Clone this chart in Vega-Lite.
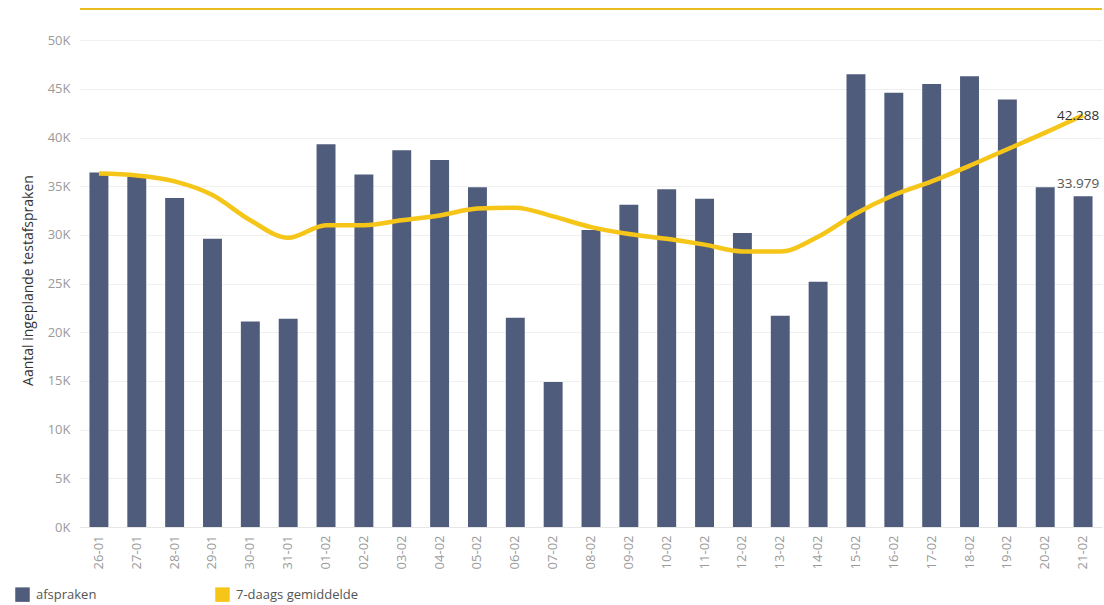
{
  "$schema": "https://vega.github.io/schema/vega-lite/v6.json",
  "width": 1022,
  "height": 518,
  "autosize": {"type": "none"},
  "padding": {"left": 80, "top": 9, "right": 2, "bottom": 78},
  "background": "white",
  "config": {
    "font": "Open Sans",
    "view": {"stroke": null},
    "locale": {"number": {"decimal": ",", "thousands": ".", "grouping": [3], "currency": ["€", ""]}}
  },
  "data": {
    "values": [
      {"date": "26-01", "afspraken": 36400, "gemiddelde": 36300},
      {"date": "27-01", "afspraken": 35950, "gemiddelde": 36100},
      {"date": "28-01", "afspraken": 33800, "gemiddelde": 35500},
      {"date": "29-01", "afspraken": 29600, "gemiddelde": 34100},
      {"date": "30-01", "afspraken": 21100, "gemiddelde": 31500},
      {"date": "31-01", "afspraken": 21400, "gemiddelde": 29700},
      {"date": "01-02", "afspraken": 39300, "gemiddelde": 31000},
      {"date": "02-02", "afspraken": 36200, "gemiddelde": 31000},
      {"date": "03-02", "afspraken": 38700, "gemiddelde": 31500},
      {"date": "04-02", "afspraken": 37700, "gemiddelde": 32000},
      {"date": "05-02", "afspraken": 34900, "gemiddelde": 32700},
      {"date": "06-02", "afspraken": 21500, "gemiddelde": 32800},
      {"date": "07-02", "afspraken": 14900, "gemiddelde": 31900},
      {"date": "08-02", "afspraken": 30500, "gemiddelde": 30800},
      {"date": "09-02", "afspraken": 33100, "gemiddelde": 30100},
      {"date": "10-02", "afspraken": 34700, "gemiddelde": 29600},
      {"date": "11-02", "afspraken": 33700, "gemiddelde": 29000},
      {"date": "12-02", "afspraken": 30200, "gemiddelde": 28300},
      {"date": "13-02", "afspraken": 21700, "gemiddelde": 28300},
      {"date": "14-02", "afspraken": 25200, "gemiddelde": 29800},
      {"date": "15-02", "afspraken": 46500, "gemiddelde": 32200},
      {"date": "16-02", "afspraken": 44600, "gemiddelde": 34100},
      {"date": "17-02", "afspraken": 45500, "gemiddelde": 35500},
      {"date": "18-02", "afspraken": 46300, "gemiddelde": 37100},
      {"date": "19-02", "afspraken": 43900, "gemiddelde": 38800},
      {"date": "20-02", "afspraken": 34900, "gemiddelde": 40500},
      {"date": "21-02", "afspraken": 33979, "gemiddelde": 42288}
    ]
  },
  "encoding": {
    "x": {
      "field": "date",
      "type": "ordinal",
      "sort": null,
      "scale": {"paddingInner": 0.5, "paddingOuter": 0.25},
      "axis": {
        "title": null,
        "labelAngle": -90,
        "labelColor": "#9a9a9a",
        "labelFontSize": 13,
        "labelPadding": 8,
        "ticks": false,
        "domainColor": "#e6e6e6",
        "grid": false
      }
    }
  },
  "layer": [
    {
      "mark": {"type": "bar", "color": "#505c7c"},
      "encoding": {
        "y": {
          "field": "afspraken",
          "type": "quantitative",
          "scale": {"domain": [0, 53200], "nice": false},
          "axis": {
            "title": "Aantal ingeplande testafspraken",
            "titleFontSize": 14,
            "titleFontWeight": "normal",
            "titleColor": "#333333",
            "titlePadding": 12,
            "titleY": 271,
            "values": [0, 5000, 10000, 15000, 20000, 25000, 30000, 35000, 40000, 45000, 50000],
            "labelExpr": "datum.value / 1000 + 'K'",
            "labelColor": "#9a9a9a",
            "labelFontSize": 13,
            "labelPadding": 10,
            "ticks": false,
            "domain": false,
            "gridColor": "#f0f0f0"
          }
        },
        "color": {
          "datum": "afspraken",
          "type": "nominal",
          "scale": {"domain": ["afspraken", "7-daags gemiddelde"], "range": ["#505c7c", "#f5c518"]},
          "legend": {
            "title": null,
            "orient": "none",
            "legendX": -65,
            "legendY": 578,
            "direction": "horizontal",
            "symbolType": "square",
            "symbolSize": 210,
            "symbolStrokeWidth": 0,
            "labelFontSize": 13,
            "labelColor": "#555555",
            "labelOffset": 6,
            "columnPadding": 118,
            "encode": {
              "symbols": {"update": {"fill": {"scale": "color", "field": "value"}, "shape": {"value": "square"}, "strokeWidth": {"value": 0}, "opacity": {"value": 1}}}
            }
          }
        }
      }
    },
    {
      "mark": {"type": "line", "interpolate": "monotone", "strokeWidth": 4.5, "color": "#f5c518"},
      "encoding": {
        "y": {"field": "gemiddelde", "type": "quantitative"},
        "color": {"datum": "7-daags gemiddelde", "type": "nominal"}
      }
    },
    {
      "transform": [{"filter": "datum.date == '21-02'"}],
      "mark": {"type": "text", "fontSize": 13.5, "color": "#333333", "dx": -5, "dy": 1},
      "encoding": {
        "y": {"field": "gemiddelde", "type": "quantitative"},
        "text": {"field": "gemiddelde", "type": "quantitative", "format": ",.0f"}
      }
    },
    {
      "transform": [{"filter": "datum.date == '21-02'"}],
      "mark": {"type": "text", "fontSize": 13.5, "color": "#555555", "dx": -5, "dy": -12},
      "encoding": {
        "y": {"field": "afspraken", "type": "quantitative"},
        "text": {"field": "afspraken", "type": "quantitative", "format": ",.0f"}
      }
    },
    {
      "data": {"values": [{"top": 53200}]},
      "mark": {"type": "rule", "color": "#e9bc20", "strokeWidth": 2},
      "encoding": {
        "x": null,
        "y": {"field": "top", "type": "quantitative"}
      }
    }
  ]
}
